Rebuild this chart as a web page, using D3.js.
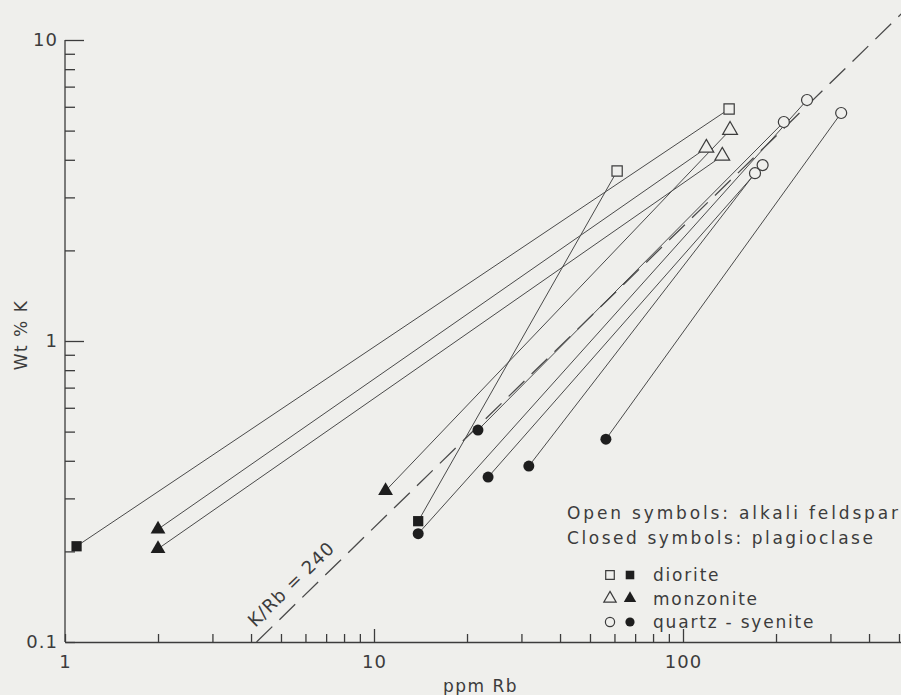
<!DOCTYPE html>
<html>
<head>
<meta charset="utf-8">
<script src="https://cdn.jsdelivr.net/npm/d3@7"></script>
<style>
    body { margin: 0; background: #efefec; }
    svg { display: block; }
    text { font-family: "DejaVu Sans", sans-serif; fill: #3c3c3c; }
    .axis path, .axis line { stroke: #3c3c3c; stroke-width: 1.3; }
    .tie { stroke: #4a4a4a; stroke-width: 1; fill: none; }
</style>
</head>
<body>
<svg id="chart" width="901" height="695"></svg>
<script>
// rock type of each mineral pair
var pairRock = ["diorite", "diorite", "monzonite", "monzonite", "monzonite",
    "quartz-syenite", "quartz-syenite", "quartz-syenite", "quartz-syenite", "quartz-syenite"];
// plagioclase (closed symbols)
var plagRb = [1.09, 13.9, 2.0, 2.0, 10.9, 13.9, 21.7, 23.4, 31.7, 56.3];
var plagK = [0.208, 0.252, 0.237, 0.204, 0.318, 0.229, 0.506, 0.353, 0.384, 0.472];
// alkali feldspar (open symbols)
var alkRb = [141, 61.2, 119, 134, 142, 252, 212, 181, 171, 325];
var alkK = [5.90, 3.67, 4.38, 4.12, 5.02, 6.32, 5.34, 3.84, 3.61, 5.72];

var legendRocks = ["diorite", "monzonite", "quartz-syenite"];
var legendLabels = ["diorite", "monzonite", "quartz - syenite"];
var xTickLabels = [1, 10, 100];
var yTickLabels = [0.1, 1, 10];
var kRbRatio = 240;

var svg = d3.select("#chart");

var x = d3.scaleLog().domain([1, 1000]).range([65, 992]);
var y = d3.scaleLog().domain([0.1, 10]).range([642, 40]);

var shapes = {
    "diorite": d3.symbolSquare,
    "monzonite": d3.symbolTriangle,
    "quartz-syenite": d3.symbolCircle
};
var sizes = { "diorite": 105, "monzonite": 95, "quartz-syenite": 95 };

// axes, ticks pointing inwards
var xTicks = x.ticks().filter(function (d) { return d <= 500; });
var xAxis = svg.append("g")
    .attr("class", "axis")
    .attr("transform", "translate(0," + y(0.1) + ")")
    .call(d3.axisBottom(x)
        .tickValues(xTicks)
        .tickSizeInner(-8)
        .tickSizeOuter(0)
        .tickFormat(function (d) { return xTickLabels.indexOf(d) > -1 ? d : ""; }));
xAxis.selectAll(".tick line")
    .attr("y2", function (d) { return (d === 10 || d === 100) ? -13 : -8; });
xAxis.selectAll(".tick text")
    .attr("y", 13)
    .attr("font-size", 18)
    .attr("fill", "#3c3c3c")
    .style("letter-spacing", "1px");

var yTicks = y.ticks();
var yAxis = svg.append("g")
    .attr("class", "axis")
    .attr("transform", "translate(" + x(1) + ",0)")
    .call(d3.axisLeft(y)
        .tickValues(yTicks)
        .tickSizeInner(-10)
        .tickSizeOuter(0)
        .tickPadding(7)
        .tickFormat(function (d) { return yTickLabels.indexOf(d) > -1 ? d : ""; }));
yAxis.selectAll(".tick line")
    .attr("x2", function (d) { return (d === 1 || d === 10) ? 19 : 10; });
yAxis.selectAll(".tick text")
    .attr("font-size", 18)
    .attr("fill", "#3c3c3c")
    .style("letter-spacing", "1px");
yAxis.select(".domain").attr("d", "M0," + y(0.1) + "V" + y(10));

// axis titles
svg.append("text")
    .attr("x", 443)
    .attr("y", 692)
    .attr("font-size", 17)
    .style("letter-spacing", "1.5px")
    .text("ppm Rb");

svg.append("text")
    .attr("transform", "translate(27,335)rotate(-90)")
    .attr("text-anchor", "middle")
    .attr("font-size", 17)
    .style("letter-spacing", "1.5px")
    .text("Wt % K");

// K/Rb = 240 reference line
var refRb = [0.1 * 10000 / kRbRatio, 600];
svg.append("line")
    .attr("x1", x(refRb[0]))
    .attr("y1", y(refRb[0] * kRbRatio / 10000))
    .attr("x2", x(refRb[1]))
    .attr("y2", y(refRb[1] * kRbRatio / 10000))
    .attr("stroke", "#4a4a4a")
    .attr("stroke-width", 1.3)
    .attr("stroke-dasharray", "22,10");

var angle = Math.atan2(y(10) - y(0.1), x(10 * 10000 / kRbRatio) - x(0.1 * 10000 / kRbRatio)) * 180 / Math.PI;
var labelRb = 5.9;
svg.append("text")
    .attr("transform", "translate(" + x(labelRb) + "," + y(labelRb * kRbRatio / 10000) + ")rotate(" + angle + ")translate(0,-11)")
    .attr("text-anchor", "middle")
    .attr("font-size", 18)
    .style("letter-spacing", "1px")
    .text("K/Rb = " + kRbRatio);

// tie lines between coexisting feldspars
var pairs = pairRock.map(function (r, i) {
    return { rock: r, plag: [plagRb[i], plagK[i]], alk: [alkRb[i], alkK[i]] };
});

svg.append("g")
    .selectAll("line.tie")
    .data(pairs)
    .enter().append("line")
    .attr("class", "tie")
    .attr("x1", function (d) { return x(d.plag[0]); })
    .attr("y1", function (d) { return y(d.plag[1]); })
    .attr("x2", function (d) { return x(d.alk[0]); })
    .attr("y2", function (d) { return y(d.alk[1]); });

var symbol = d3.symbol()
    .type(function (d) { return shapes[d.rock]; })
    .size(function (d) { return sizes[d.rock]; });

// closed symbols
svg.append("g")
    .selectAll("path")
    .data(pairs)
    .enter().append("path")
    .attr("transform", function (d) { return "translate(" + x(d.plag[0]) + "," + y(d.plag[1]) + ")"; })
    .attr("d", symbol)
    .attr("fill", "#1e1e1e");

// open symbols
svg.append("g")
    .selectAll("path")
    .data(pairs)
    .enter().append("path")
    .attr("transform", function (d) { return "translate(" + x(d.alk[0]) + "," + y(d.alk[1]) + ")"; })
    .attr("d", symbol)
    .attr("fill", "#efefec")
    .attr("stroke", "#3c3c3c")
    .attr("stroke-width", 1.2);

// legend
var legend = svg.append("g").attr("font-size", 17);

legend.append("text")
    .attr("x", 567).attr("y", 519)
    .attr("textLength", 331)
    .attr("lengthAdjust", "spacing")
    .text("Open symbols: alkali feldspar");

legend.append("text")
    .attr("x", 567).attr("y", 544)
    .attr("textLength", 306)
    .attr("lengthAdjust", "spacing")
    .text("Closed symbols: plagioclase");

var item = legend.selectAll("g.item")
    .data(legendRocks)
    .enter().append("g")
    .attr("class", "item")
    .attr("transform", function (d, i) { return "translate(0," + (575 + i * 23.5) + ")"; });

var legendSymbol = d3.symbol()
    .type(function (d) { return shapes[d]; })
    .size(function (d) { return sizes[d] * 0.7; });

item.append("path")
    .attr("transform", "translate(610,0)")
    .attr("d", legendSymbol)
    .attr("fill", "none")
    .attr("stroke", "#3c3c3c")
    .attr("stroke-width", 1.2);

item.append("path")
    .attr("transform", "translate(630,0)")
    .attr("d", legendSymbol)
    .attr("fill", "#1e1e1e");

item.append("text")
    .attr("x", 653)
    .attr("y", 6)
    .style("letter-spacing", "1.8px")
    .text(function (d, i) { return legendLabels[i]; });
</script>
</body>
</html>
